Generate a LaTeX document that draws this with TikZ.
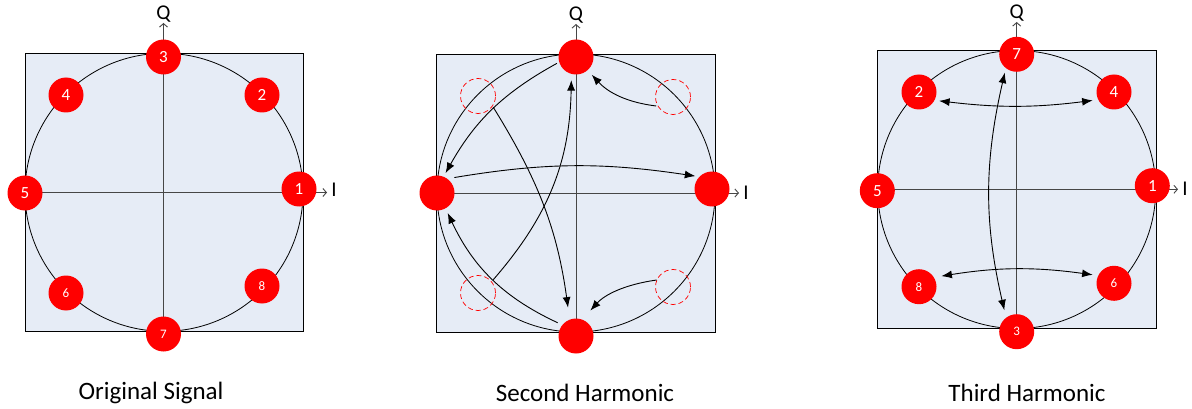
\documentclass[tikz,border=0pt]{standalone}
\usepackage{fontspec}
\setmainfont{Carlito}
\usetikzlibrary{arrows.meta}
\definecolor{boxblue}{RGB}{230,236,246}
\definecolor{axisgray}{RGB}{70,70,70}
\begin{document}
\begin{tikzpicture}[x=1pt,y=-1pt,
  dot/.style={circle,fill=red,inner sep=0pt,minimum size=35pt,text=white,font=\fontsize{17}{17}\selectfont},
  smalldot/.style={dot,font=\fontsize{13}{13}\selectfont},
  ghost/.style={circle,draw=red,line width=0.7pt,dash pattern=on 5pt off 3pt,minimum size=35pt,inner sep=0pt},
  panel/.style={draw=black,line width=0.8pt,fill=boxblue},
  ring/.style={draw=black,line width=0.8pt},
  axis/.style={draw=axisgray,line width=0.9pt,-{Straight Barb[length=3.5pt,width=8pt]}},
  flow/.style={line width=0.9pt,-{Latex[length=10.5pt,width=8pt]}},
  both/.style={line width=0.9pt,{Latex[length=10.5pt,width=8pt]}-{Latex[length=10.5pt,width=8pt]}},
  axlabel/.style={font=\fontsize{21}{21}\selectfont,inner sep=0pt},
  caption/.style={font=\fontsize{25}{25}\selectfont,inner sep=0pt}]
\useasboundingbox (0,0) rectangle (1192,409);

% ---------- Panel 1: Original Signal ----------
\draw[panel] (25,53.3) rectangle (303,331);
\draw[ring] (164,192.3) circle[radius=139];
\coordinate (a1l) at (25,192.5);
\coordinate (a1r) at (327,192.5);
\coordinate (a1b) at (163.5,331);
\coordinate (a1t) at (163.5,23);
\draw[axis] (a1l) -- (a1r);
\draw[axis] (a1b) -- (a1t);
\node[axlabel] (q1) at (163.5,14) {Q};
\node[axlabel] (i1) at (334,190) {I};
\node[dot] (o3) at (163.5,57) {3};
\node[dot] (o2) at (262,95) {2};
\node[dot] (o4) at (66,95) {4};
\node[dot] (o1) at (299,189) {1};
\node[dot] (o5) at (25,193) {5};
\node[smalldot] (o6) at (66,293) {6};
\node[smalldot] (o8) at (262,286) {8};
\node[smalldot] (o7) at (163.5,334) {7};
\node[caption] (c1) at (151,393) {Original Signal};

% ---------- Panel 2: Second Harmonic ----------
\draw[panel] (436.7,54.3) rectangle (715,332);
\draw[ring] (576,193) circle[radius=139];
\coordinate (a2l) at (436.7,193);
\coordinate (a2r) at (739,193);
\coordinate (a2b) at (576,332);
\coordinate (a2t) at (576,24);
\draw[axis] (a2l) -- (a2r);
\draw[axis] (a2b) -- (a2t);
\node[axlabel] (q2) at (576,15) {Q};
\node[axlabel] (i2) at (746,193) {I};
\node[ghost] (ul) at (478,96) {};
\node[ghost] (ur) at (673,97) {};
\node[ghost] (ll) at (478,293) {};
\node[ghost] (lr) at (673,287) {};
\node[dot] (t2) at (576,57) {};
\node[dot] (b2) at (576,336) {};
\node[dot] (l2) at (437,193) {};
\node[dot] (r2) at (712,189) {};
\draw[flow,shorten <=2.5pt,shorten >=4pt] (t2.197) to[bend right=16] (l2.68);
\draw[flow,shorten <=1pt,shorten >=12pt] (ul.-35) to[bend left=12] (b2.111);
\draw[flow,shorten <=2.5pt,shorten >=6pt] (ll.40) to[bend right=20] (t2.255);
\draw[flow,shorten <=5pt,shorten >=5pt] (b2.141) to[bend left=20] (l2.-61);
\draw[flow,shorten <=7pt,shorten >=4pt] (l2.54) to[bend left=9] (r2.136);
\draw[flow,shorten <=1.5pt,shorten >=6pt] (ur.211) to[bend left=20] (t2.-49);
\draw[flow,shorten <=0pt,shorten >=12pt] (lr.157) to[bend right=20] (b2.69);
\node[caption] (c2) at (585,393) {Second Harmonic};

% ---------- Panel 3: Third Harmonic ----------
\draw[panel] (877.3,50.7) rectangle (1156,328.3);
\draw[ring] (1016.7,189.5) circle[radius=139];
\coordinate (a3l) at (877.3,189.3);
\coordinate (a3r) at (1178,189.3);
\coordinate (a3b) at (1016.7,328.3);
\coordinate (a3t) at (1016.7,22);
\draw[axis] (a3l) -- (a3r);
\draw[axis] (a3b) -- (a3t);
\node[axlabel] (q3) at (1016.7,13) {Q};
\node[axlabel] (i3) at (1185,189) {I};
\node[dot] (p7) at (1016.7,54.3) {7};
\node[smalldot] (p3) at (1016.7,331.7) {3};
\node[dot] (p5) at (877.3,190.7) {5};
\node[dot] (p1) at (1152.3,185.7) {1};
\node[dot] (p2) at (919,92) {2};
\node[dot] (p4) at (1114,92) {4};
\node[smalldot] (p8) at (919,286.7) {8};
\node[smalldot] (p6) at (1114,283.3) {6};
\draw[both,shorten <=4.5pt,shorten >=5.5pt] (p2.-28) to[bend right=7] (p4.206);
\draw[both,shorten <=7.5pt,shorten >=5.5pt] (p8.32) to[bend left=8.5] (p6.154);
\draw[both,shorten <=4.5pt,shorten >=7.5pt] (p7.232) to[bend right=13] (p3.127);
\node[caption] (c3) at (1027,393) {Third Harmonic};
\end{tikzpicture}
\end{document}
